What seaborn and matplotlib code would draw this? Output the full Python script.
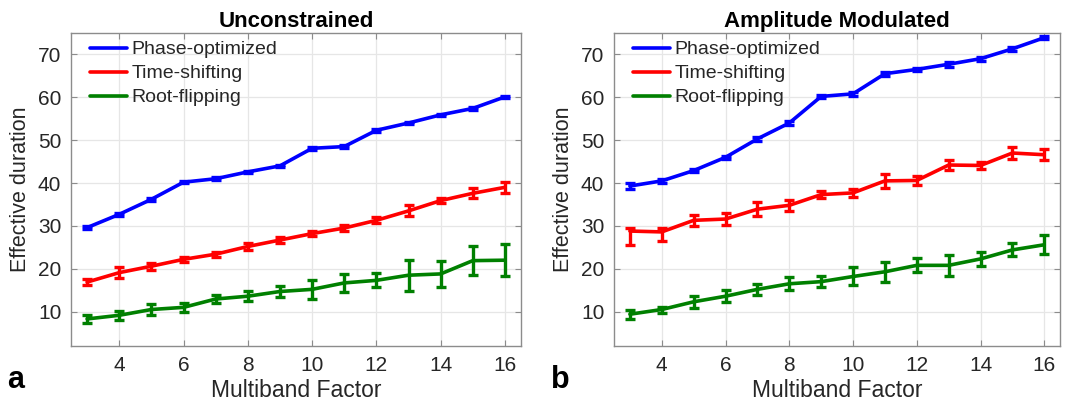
import numpy as np
import pandas as pd
import matplotlib
matplotlib.use("Agg")
import matplotlib.pyplot as plt
import seaborn as sns

# ---------------- data ----------------
mb_factor = [3, 4, 5, 6, 7, 8, 9, 10, 11, 12, 13, 14, 15, 16]
methods = ["Phase-optimized", "Time-shifting", "Root-flipping"]
panel_titles = ["Unconstrained", "Amplitude Modulated"]
panel_letters = ["a", "b"]

# Unconstrained
unc_phase = [29.6, 32.7, 36.2, 40.2, 41.0, 42.6, 44.0, 48.1, 48.5, 52.3, 54.0, 55.9, 57.4, 60.1]
unc_phase_err = [0.3, 0.3, 0.3, 0.3, 0.3, 0.3, 0.3, 0.3, 0.3, 0.3, 0.3, 0.3, 0.3, 0.3]
unc_time = [16.9, 19.1, 20.6, 22.2, 23.4, 25.2, 26.7, 28.2, 29.5, 31.3, 33.5, 35.9, 37.6, 39.0]
unc_time_err = [0.7, 1.2, 0.8, 0.6, 0.6, 0.8, 0.6, 0.5, 0.8, 0.7, 1.3, 0.6, 1.2, 1.3]
unc_root = [8.3, 9.15, 10.5, 11.0, 12.95, 13.6, 14.7, 15.2, 16.7, 17.3, 18.5, 18.8, 21.9, 22.0]
unc_root_err = [1.0, 1.0, 1.2, 1.1, 0.9, 1.1, 1.2, 2.2, 2.1, 1.6, 3.6, 3.0, 3.3, 3.7]

# Amplitude modulated
am_phase = [39.3, 40.5, 42.9, 46.0, 50.3, 54.0, 60.2, 60.8, 65.5, 66.5, 67.7, 69.0, 71.3, 73.9]
am_phase_err = [0.8, 0.4, 0.4, 0.4, 0.4, 0.4, 0.4, 0.5, 0.5, 0.4, 0.6, 0.5, 0.4, 0.3]
am_time = [28.8, 28.6, 31.3, 31.6, 33.9, 34.8, 37.3, 37.7, 40.5, 40.6, 44.2, 44.1, 47.0, 46.6]
am_time_err_low = [3.2, 2.2, 1.35, 1.3, 1.6, 1.3, 0.9, 1.0, 1.55, 1.0, 1.25, 0.9, 1.3, 1.3]
am_time_err_high = [0.6, 0.8, 1.35, 1.3, 1.6, 1.3, 0.9, 1.0, 1.55, 1.0, 1.25, 0.9, 1.3, 1.3]
am_root = [9.4, 10.5, 12.3, 13.6, 15.2, 16.5, 17.0, 18.2, 19.3, 20.8, 20.8, 22.3, 24.4, 25.6]
am_root_err = [1.0, 0.7, 1.4, 1.4, 1.3, 1.5, 1.2, 2.1, 2.3, 1.6, 2.5, 1.7, 1.5, 2.2]

x_ticks = [4, 6, 8, 10, 12, 14, 16]
y_ticks = [10, 20, 30, 40, 50, 60, 70]

colors = {"Phase-optimized": (0, 0, 1), "Time-shifting": (1, 0, 0), "Root-flipping": (0, 0.5, 0)}

panels = [
    {
        "Phase-optimized": (unc_phase, unc_phase_err, unc_phase_err),
        "Time-shifting": (unc_time, unc_time_err, unc_time_err),
        "Root-flipping": (unc_root, unc_root_err, unc_root_err),
    },
    {
        "Phase-optimized": (am_phase, am_phase_err, am_phase_err),
        "Time-shifting": (am_time, am_time_err_low, am_time_err_high),
        "Root-flipping": (am_root, am_root_err, am_root_err),
    },
]

# ---------------- style ----------------
sns.set_theme(style="white")
plt.rcParams["font.family"] = ["Liberation Sans", "DejaVu Sans"]

fig = plt.figure(figsize=(10.65, 4.07), dpi=100)
ax_rects = [[0.0667, 0.150, 0.4225, 0.769], [0.5765, 0.150, 0.419, 0.769]]
letter_x = [0.007, 0.517]

for i, (rect, pdata) in enumerate(zip(ax_rects, panels)):
    ax = fig.add_axes(rect)
    rows = []
    for m in methods:
        vals = pdata[m][0]
        for xv, yv in zip(mb_factor, vals):
            rows.append({"Multiband Factor": xv, "Effective duration": yv, "Method": m})
    df = pd.DataFrame(rows)
    sns.lineplot(data=df, x="Multiband Factor", y="Effective duration", hue="Method",
                 hue_order=methods, palette=colors, linewidth=2.6, ax=ax, zorder=3)
    for m in methods:
        vals, lo, hi = pdata[m]
        ax.errorbar(mb_factor, vals, yerr=[lo, hi], fmt="none", ecolor=colors[m],
                    elinewidth=2.4, capsize=3.5, capthick=2.4, zorder=3)

    ax.set_xlim(2.5, 16.5)
    ax.set_ylim(2, 75)
    ax.set_xticks(x_ticks)
    ax.set_yticks(y_ticks)
    ax.grid(True, color="#e6e6e6", linewidth=0.9)
    ax.set_axisbelow(True)
    for s in ax.spines.values():
        s.set_color("#8c8c8c")
        s.set_linewidth(1.0)
    ax.tick_params(direction="in", length=4, width=0.8, color="#8c8c8c",
                   top=True, right=True, bottom=True, left=True,
                   labelsize=15, labelcolor="#262626", pad=7)
    ax.set_xlabel("Multiband Factor", fontsize=16.5, color="#262626", labelpad=3)
    ax.set_ylabel("Effective duration", fontsize=15.5, color="#262626", labelpad=5)
    ax.set_title(panel_titles[i], fontsize=16, fontweight="bold", color="black", pad=4)

    leg = ax.legend(loc="upper left", frameon=False, fontsize=14, handlelength=1.9,
                    handletextpad=0.25, labelspacing=0.33, borderaxespad=0.0,
                    bbox_to_anchor=(0.025, 1.0))
    for h in leg.get_lines():
        h.set_linewidth(2.6)

    fig.text(letter_x[i], 0.03, panel_letters[i], fontsize=22, fontweight="bold",
             ha="left", va="bottom", color="black")

fig.savefig("out.png", dpi=100)
